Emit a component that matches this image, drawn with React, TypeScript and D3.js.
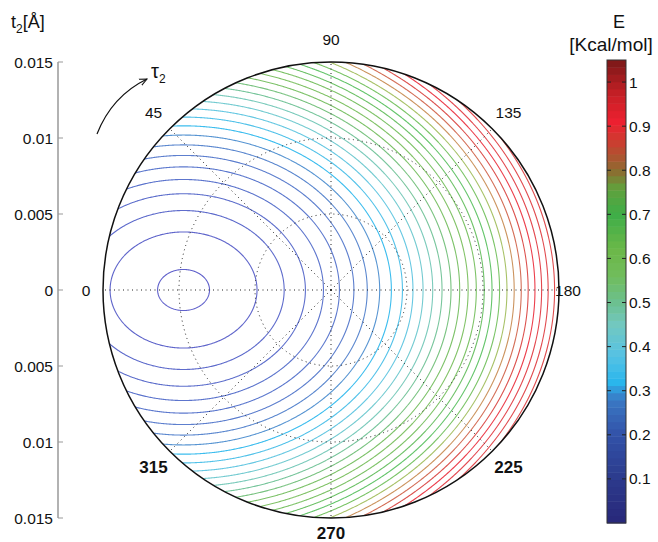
import React, { useEffect, useRef } from "react";
import * as d3 from "d3";

// polar grid
const angleTicks = [0, 45, 90, 135, 180, 225, 270, 315];
const boldAngles = [225, 270, 315];
const ringValues = [0.005, 0.01];
const tMax = 0.015;
const axisTicks = [-0.015, -0.01, -0.005, 0, 0.005, 0.01, 0.015];

// energy surface: minimum at tau=0, t~0.0097
const minimumT = 0.0097;
const curvature = 1712; // kcal/mol per unit^2
const aspectRatio = 0.79; // ellipse height / width around the minimum

// contour levels (kcal/mol)
const contourLevels = [
  0.005, 0.04, 0.075, 0.11, 0.145, 0.18, 0.215, 0.25, 0.285, 0.32,
  0.355, 0.39, 0.425, 0.46, 0.495, 0.53, 0.565, 0.6, 0.635, 0.67,
  0.705, 0.74, 0.775, 0.81, 0.845, 0.88, 0.915, 0.95, 0.985, 1.02,
];

// colour bar
const colorbarTicks = [0.1, 0.2, 0.3, 0.4, 0.5, 0.6, 0.7, 0.8, 0.9, 1];
const colorbarDomain = [0, 1.05];
const stopValues = [0, 0.1, 0.2, 0.28, 0.32, 0.38, 0.45, 0.5, 0.56, 0.62, 0.7, 0.76, 0.8, 0.86, 0.91, 0.97, 1.05];
const stopColors = [
  "#28287a", "#2c3a8c", "#3252a8", "#3a78c4", "#2ab6ec", "#56c2e4", "#72c8c0", "#6cc090",
  "#70bc5c", "#6cb848", "#3eae48", "#62a03c", "#8e6a30", "#c84030", "#ec2030", "#c82026", "#7a1818",
];

const W = 658;
const H = 542;
const font = "'Liberation Sans', Arial, Helvetica, sans-serif";

export default function App() {
  const ref = useRef<SVGSVGElement>(null);

  useEffect(() => {
    const svg = d3.select(ref.current);
    svg.selectAll("*").remove();

    const cx = 331, cy = 290, R = 228;
    const rScale = d3.scaleLinear().domain([0, tMax]).range([0, R]);
    const yAxis = d3.scaleLinear().domain([-tMax, tMax]).range([cy + R, cy - R]);
    const color = d3.scaleLinear<string>().domain(stopValues).range(stopColors).interpolate(d3.interpolateRgb).clamp(true);

    const lineColor = (v: number) => {
      const c = d3.hsl(color(v));
      c.l = Math.max(c.l, 0.55);
      return d3.interpolateRgb(c.formatHex(), "#ffffff")(0.08);
    };

    const polar = (deg: number, r: number) => {
      const a = (deg * Math.PI) / 180;
      return [cx - r * Math.cos(a), cy - r * Math.sin(a)];
    };

    // ---- contours
    const pad = 6;
    const n = 2 * (R + pad);
    const x0 = cx - R - pad, y0 = cy - R - pad;
    const ppu = R / tMax;
    const values = new Float64Array(n * n);
    for (let j = 0; j < n; j++) {
      for (let i = 0; i < n; i++) {
        const X = (cx - (x0 + i + 0.5)) / ppu;
        const Y = (cy - (y0 + j + 0.5)) / ppu;
        values[j * n + i] = curvature * ((X - minimumT) ** 2 + (Y / aspectRatio) ** 2);
      }
    }
    const contours = d3.contours().size([n, n]).thresholds(contourLevels)(Array.from(values));

    svg.append("clipPath").attr("id", "disc")
      .append("circle").attr("cx", cx).attr("cy", cy).attr("r", R);

    const g = svg.append("g").attr("clip-path", "url(#disc)");
    g.append("g")
      .attr("transform", `translate(${x0},${y0})`)
      .selectAll("path")
      .data(contours)
      .enter().append("path")
      .attr("d", d3.geoPath())
      .attr("fill", "none")
      .attr("stroke", d => lineColor(d.value))
      .attr("stroke-width", 1.1);

    // ---- dotted grid
    const grid = svg.append("g")
      .attr("fill", "none")
      .attr("stroke", "#222")
      .attr("stroke-width", 1)
      .attr("stroke-dasharray", "1,3.5");
    ringValues.forEach(v => {
      grid.append("circle").attr("cx", cx).attr("cy", cy).attr("r", rScale(v));
    });
    angleTicks.forEach(a => {
      const [x, y] = polar(a, R);
      grid.append("line").attr("x1", cx).attr("y1", cy).attr("x2", x).attr("y2", y);
    });

    svg.append("circle")
      .attr("cx", cx).attr("cy", cy).attr("r", R)
      .attr("fill", "none").attr("stroke", "#111").attr("stroke-width", 1.5);

    // ---- angle labels
    const labelRadius = (a: number) => (a === 180 ? 237 : a === 0 ? 245 : a === 270 ? 243 : 251);
    angleTicks.forEach(a => {
      const bold = boldAngles.includes(a);
      const [x, y] = polar(a, labelRadius(a));
      svg.append("text")
        .attr("x", x).attr("y", y)
        .attr("text-anchor", "middle")
        .attr("dominant-baseline", "central")
        .style("font-family", font)
        .style("font-size", bold ? "17px" : "15.5px")
        .style("font-weight", bold ? "bold" : "normal")
        .style("fill", "#111")
        .text(a);
    });

    // ---- left axis
    const ax = 58;
    const axis = svg.append("g");
    axis.append("line")
      .attr("x1", ax).attr("x2", ax)
      .attr("y1", yAxis(tMax)).attr("y2", yAxis(-tMax))
      .attr("stroke", "#999").attr("stroke-width", 1.5);
    axisTicks.forEach(v => {
      axis.append("line")
        .attr("x1", ax).attr("x2", ax + 5)
        .attr("y1", yAxis(v)).attr("y2", yAxis(v))
        .attr("stroke", "#999").attr("stroke-width", 1);
      axis.append("text")
        .attr("x", ax - 5).attr("y", yAxis(v))
        .attr("text-anchor", "end")
        .attr("dominant-baseline", "central")
        .style("font-family", font).style("font-size", "15.5px").style("fill", "#111")
        .text(v === 0 ? "0" : String(Math.abs(v)));
    });

    const tLabel = svg.append("text")
      .attr("x", 11).attr("y", 28)
      .style("font-family", font).style("font-size", "18px").style("fill", "#111");
    tLabel.append("tspan").text("t");
    tLabel.append("tspan").attr("dy", 5).style("font-size", "12px").text("2");
    tLabel.append("tspan").attr("dy", -5).text("[Å]");

    // ---- tau arrow
    svg.append("defs").append("marker")
      .attr("id", "arrow").attr("viewBox", "0 0 10 10")
      .attr("refX", 9).attr("refY", 5)
      .attr("markerWidth", 7).attr("markerHeight", 7)
      .attr("orient", "auto")
      .append("path").attr("d", "M0,1 L9,5 L0,9").attr("fill", "none").attr("stroke", "#111").attr("stroke-width", 1.2);
    svg.append("path")
      .attr("d", "M97,134 Q112,96 147,79")
      .attr("fill", "none").attr("stroke", "#111").attr("stroke-width", 1.2)
      .attr("marker-end", "url(#arrow)");
    const tau = svg.append("text")
      .attr("x", 151).attr("y", 78)
      .style("font-family", font).style("font-size", "20px").style("fill", "#111");
    tau.append("tspan").text("τ");
    tau.append("tspan").attr("dy", 5).style("font-size", "12px").text("2");

    // ---- colour bar
    const cbX = 607, cbW = 19, cbTop = 60, cbBottom = 523;
    const cbScale = d3.scaleLinear().domain(colorbarDomain).range([cbBottom, cbTop]);
    const steps = 64;
    const cb = svg.append("g");
    d3.range(steps).forEach(k => {
      const v0 = colorbarDomain[0] + (k / steps) * (colorbarDomain[1] - colorbarDomain[0]);
      const v1 = colorbarDomain[0] + ((k + 1) / steps) * (colorbarDomain[1] - colorbarDomain[0]);
      cb.append("rect")
        .attr("x", cbX).attr("width", cbW)
        .attr("y", cbScale(v1)).attr("height", cbScale(v0) - cbScale(v1) + 0.5)
        .attr("fill", color((v0 + v1) / 2));
    });
    cb.append("rect")
      .attr("x", cbX).attr("y", cbTop).attr("width", cbW).attr("height", cbBottom - cbTop)
      .attr("fill", "none").attr("stroke", "#333").attr("stroke-width", 1);
    colorbarTicks.forEach(v => {
      cb.append("line")
        .attr("x1", cbX).attr("x2", cbX + 4)
        .attr("y1", cbScale(v)).attr("y2", cbScale(v))
        .attr("stroke", "#222");
      cb.append("line")
        .attr("x1", cbX + cbW - 4).attr("x2", cbX + cbW)
        .attr("y1", cbScale(v)).attr("y2", cbScale(v))
        .attr("stroke", "#222");
      cb.append("text")
        .attr("x", cbX + cbW + 3).attr("y", cbScale(v))
        .attr("dominant-baseline", "central")
        .style("font-family", font).style("font-size", "15.5px").style("fill", "#111")
        .text(String(v));
    });
    svg.append("text")
      .attr("x", 619).attr("y", 28).attr("text-anchor", "middle")
      .style("font-family", font).style("font-size", "18px").style("fill", "#111")
      .text("E");
    svg.append("text")
      .attr("x", 611).attr("y", 51).attr("text-anchor", "middle")
      .style("font-family", font).style("font-size", "19px").style("fill", "#111")
      .text("[Kcal/mol]");
  }, []);

  return (
    <svg
      ref={ref}
      width={W}
      height={H}
      style={{ position: "absolute", left: 0, top: 0, background: "#fff" }}
    />
  );
}
